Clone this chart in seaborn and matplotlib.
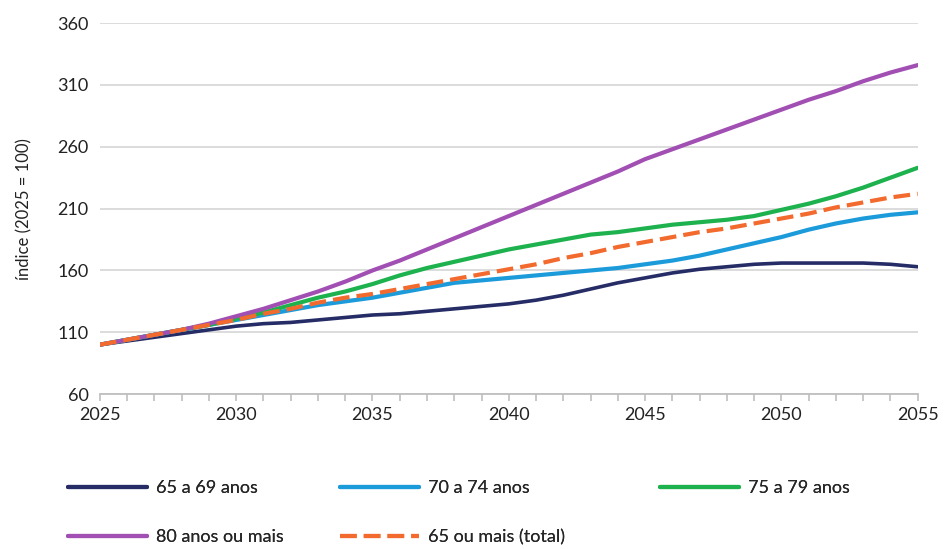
import numpy as np
import pandas as pd
import seaborn as sns
import matplotlib.pyplot as plt
from matplotlib.ticker import MultipleLocator

years = list(range(2025, 2056))

idade_65_69 = [100, 103, 106, 109, 112, 115, 117, 118, 120, 122, 124, 125, 127, 129, 131,
               133, 136, 140, 145, 150, 154, 158, 161, 163, 165, 166, 166, 166, 166, 165, 163]
idade_70_74 = [100, 104, 108, 112, 116, 120, 124, 128, 132, 135, 138, 142, 146, 150, 152,
               154, 156, 158, 160, 162, 165, 168, 172, 177, 182, 187, 193, 198, 202, 205, 207]
idade_75_79 = [100, 104, 108, 112, 116, 121, 126, 132, 138, 143, 149, 156, 162, 167, 172,
               177, 181, 185, 189, 191, 194, 197, 199, 201, 204, 209, 214, 220, 227, 235, 243]
idade_80_mais = [100, 104, 108, 112, 117, 123, 129, 136, 143, 151, 160, 168, 177, 186, 195,
                 204, 213, 222, 231, 240, 250, 258, 266, 274, 282, 290, 298, 305, 313, 320, 326]
total_65_mais = [100, 104, 108, 112, 116, 120, 125, 129, 134, 138, 141, 145, 149, 153, 157,
                 161, 165, 170, 174, 179, 183, 187, 191, 194, 198, 202, 206, 211, 215, 219, 222]

series_names = ["65 a 69 anos", "70 a 74 anos", "75 a 79 anos",
                "80 anos ou mais", "65 ou mais (total)"]
series_values = [idade_65_69, idade_70_74, idade_75_79, idade_80_mais, total_65_mais]
colors = ["#262C66", "#1C9BDB", "#1EB24F", "#A24FB3", "#F26A2E"]

y_ticks = [60, 110, 160, 210, 260, 310, 360]
x_ticks = [2025, 2030, 2035, 2040, 2045, 2050, 2055]

df = pd.DataFrame({
    "ano": np.tile(years, len(series_names)),
    "indice": np.concatenate(series_values),
    "serie": np.repeat(series_names, len(years)),
})

sns.set_theme(style="white")
plt.rcParams["font.family"] = ["Lato", "DejaVu Sans"]

W, H = 951, 549
fig = plt.figure(figsize=(W / 100, H / 100), dpi=100)
ax = fig.add_axes([0.105, 0.282, 0.86, 0.676])

palette = dict(zip(series_names, colors))
dashes = {n: "" for n in series_names}
dashes["65 ou mais (total)"] = (4, 1.7)

sns.lineplot(data=df, x="ano", y="indice", hue="serie", style="serie",
             palette=palette, dashes=dashes, hue_order=series_names,
             style_order=series_names, linewidth=3, ax=ax, legend=True)

for line, name in zip(ax.get_lines(), series_names):
    if name == "65 a 69 anos":
        line.set_linewidth(2.6)

ax.set_xlim(2025, 2055)
ax.set_ylim(60, 360)
ax.set_yticks(y_ticks)
ax.set_xticks(x_ticks)
ax.xaxis.set_minor_locator(MultipleLocator(1))
ax.grid(axis="y", color="#d9d9d9", linewidth=1.3)
ax.set_axisbelow(True)
for side in ["top", "right", "left"]:
    ax.spines[side].set_visible(False)
ax.spines["bottom"].set_color("#bfbfbf")
ax.spines["bottom"].set_linewidth(1.3)
ax.tick_params(axis="x", which="both", direction="out", length=5, width=1.2,
               color="#bfbfbf", bottom=True, labelsize=13, pad=4, labelcolor="#222222")
ax.tick_params(axis="y", length=0, labelsize=13, pad=8, labelcolor="#222222")
ax.set_xlabel("")
ax.set_ylabel("índice (2025 = 100)", fontsize=12, color="#222222", labelpad=18)

handles, labels = ax.get_legend_handles_labels()
ax.get_legend().remove()

# legend entries laid out in two rows below the plot
legend_slots = [(68, 488), (340, 488), (660, 488), (68, 537), (340, 537)]
for h, lab, (px, py) in zip(handles, labels, legend_slots):
    leg = fig.legend([h], [lab], loc="center left",
                     bbox_to_anchor=(px / W, 1 - py / H),
                     frameon=False, fontsize=13, handlelength=4.4,
                     handletextpad=0.45, borderpad=0, borderaxespad=0)
    fig.add_artist(leg)

fig.savefig("out.png", dpi=100)
